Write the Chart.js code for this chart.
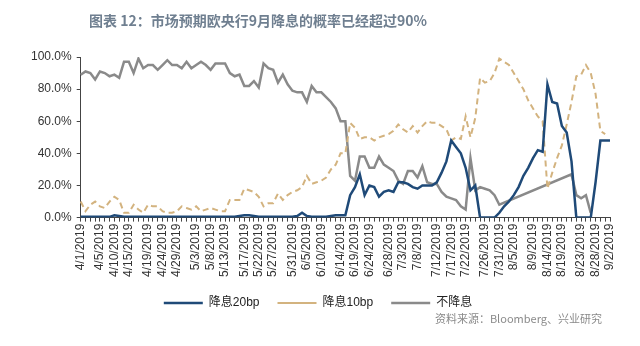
<!DOCTYPE html>
<html>
<head>
<meta charset="utf-8">
<script src="https://cdn.jsdelivr.net/npm/chart.js@4"></script>
<style>
  html, body { margin: 0; padding: 0; background: #fff; }
  #wrap { width: 640px; height: 346px; position: relative; }
</style>
</head>
<body>
<div id="wrap"><canvas id="rateChart"></canvas></div>
<script>
// trading days, 4/1/2019 - 9/2/2019
const dates = [
  '4/1/2019','4/2/2019','4/3/2019','4/4/2019','4/5/2019','4/8/2019','4/9/2019','4/10/2019','4/11/2019','4/12/2019',
  '4/15/2019','4/16/2019','4/17/2019','4/18/2019','4/19/2019','4/22/2019','4/23/2019','4/24/2019','4/25/2019','4/26/2019',
  '4/29/2019','4/30/2019','5/1/2019','5/2/2019','5/3/2019','5/6/2019','5/7/2019','5/8/2019','5/9/2019','5/10/2019',
  '5/13/2019','5/14/2019','5/15/2019','5/16/2019','5/17/2019','5/20/2019','5/21/2019','5/22/2019','5/23/2019','5/24/2019',
  '5/27/2019','5/28/2019','5/29/2019','5/30/2019','5/31/2019','6/3/2019','6/4/2019','6/5/2019','6/6/2019','6/7/2019',
  '6/10/2019','6/11/2019','6/12/2019','6/13/2019','6/14/2019','6/17/2019','6/18/2019','6/19/2019','6/20/2019','6/21/2019',
  '6/24/2019','6/25/2019','6/26/2019','6/27/2019','6/28/2019','7/1/2019','7/2/2019','7/3/2019','7/4/2019','7/5/2019',
  '7/8/2019','7/9/2019','7/10/2019','7/11/2019','7/12/2019','7/15/2019','7/16/2019','7/17/2019','7/18/2019','7/19/2019',
  '7/22/2019','7/23/2019','7/24/2019','7/25/2019','7/26/2019','7/29/2019','7/30/2019','7/31/2019','8/1/2019','8/2/2019',
  '8/5/2019','8/6/2019','8/7/2019','8/8/2019','8/9/2019','8/12/2019','8/13/2019','8/14/2019','8/15/2019','8/16/2019',
  '8/19/2019','8/20/2019','8/21/2019','8/22/2019','8/23/2019','8/26/2019','8/27/2019','8/28/2019','8/29/2019','8/30/2019',
  '9/2/2019'
];

// dates that get a label on the x axis
const tickLabels = [
  '4/1/2019','4/5/2019','4/10/2019','4/15/2019','4/19/2019','4/24/2019','4/29/2019','5/3/2019','5/8/2019',
  '5/13/2019','5/17/2019','5/22/2019','5/27/2019','5/31/2019','6/5/2019','6/10/2019','6/14/2019','6/19/2019',
  '6/24/2019','6/28/2019','7/3/2019','7/8/2019','7/12/2019','7/17/2019','7/22/2019','7/26/2019','7/31/2019',
  '8/5/2019','8/9/2019','8/14/2019','8/19/2019','8/23/2019','8/28/2019','9/2/2019'
];

// probability (%) - cut 20bp
const cut20 = [
  0.5,0.5,0.5,0.5,0.5,0.5,0.5,1.5,1,0.5,
  0.5,0.5,0.5,0.5,0.5,0.5,0.5,0.5,0.5,0.5,
  0.5,0.5,0.5,0.5,0.5,0.5,0.5,0.5,0.5,0.5,
  0.5,0.5,0.5,1,1.5,1.5,1,0.5,0.5,0.5,
  0.5,0.5,0.5,0.5,0.5,1,3,1,0.5,0.5,
  0.5,0.5,1,1.5,1.5,1.5,14,19,27,14,
  20,19,13,16,17,16,22,22,21,19,
  18,20,20,20,22,28,35,48,44,40,
  31,17,20,0,0,0,0,3,7,10,
  14,19,26,31,37,42,41,83,72,71,
  57,53,35,0,0,0,0,22,48,48,48
];

// probability (%) - cut 10bp
const cut10 = [
  10,4,8,10,7,6,10,13,11,3,
  3,8,5,3,8,7,7,4,3,3,
  4,7,6,5,7,4,5,6,5,4,
  4,11,11,11,18,17,16,13,7,9,
  9,15,11,14,16,17,19,26,21,22,
  23,25,30,33,40,40,59,56,49,50,
  50,48,50,51,52,54,58,55,53,57,
  53,57,60,59,59,57,55,48,50,49,
  63,50,62,87,84,85,90,99,97,95,
  90,85,80,73,68,63,60,18,28,37,
  45,58,72,88,89,95,90,77,54,52,null
];

// probability (%) - no cut
const noCut = [
  89,91,90,86,91,90,88,89,87,97,
  97,90,99,93,95,95,92,95,98,95,
  95,93,97,93,95,97,95,92,96,96,
  96,90,88,89,82,82,85,81,96,93,
  92,84,89,83,79,78,78,72,82,78,
  78,75,72,68,60,60,26,23,38,38,
  31,31,38,33,31,29,23,21,29,29,
  25,32,22,21,21,16,13,12,11,7,
  5,37,17,19,18,17,14,8,null,null,
  null,null,null,null,null,null,null,null,null,null,
  null,null,27,14,12,14,3,null,null,null,null
];

const yTicks = [0, 20, 40, 60, 80, 100];

const titleText = '图表 12：市场预期欧央行9月降息的概率已经超过90%';
const sourceText = '资料来源：Bloomberg、兴业研究';

// title and source note
const textPlugin = {
    id: 'texts',
    afterDraw(chart) {
        const ctx = chart.ctx;
        ctx.save();
        ctx.textBaseline = 'middle';
        ctx.fillStyle = '#6f7f90';
        ctx.textAlign = 'left';
        ctx.font = 'bold 14px "Noto Sans CJK SC"';
        ctx.fillText(titleText, 89, 21);
        ctx.fillStyle = '#8a8a8a';
        ctx.textAlign = 'right';
        ctx.font = '11px "Noto Sans CJK SC"';
        ctx.fillText(sourceText, 602, 319);
        ctx.restore();
    }
};

Chart.defaults.font.family = '"Liberation Sans", "Noto Sans CJK SC", sans-serif';
Chart.defaults.color = '#333';

var ctx = document.getElementById('rateChart').getContext('2d');
var rateChart = new Chart(ctx, {
    type: 'line',
    data: {
        labels: dates,
        datasets: [{
            label: '降息20bp',
            data: cut20,
            borderColor: '#1f4a78',
            backgroundColor: '#1f4a78',
            borderWidth: 2.5
        }, {
            label: '降息10bp',
            data: cut10,
            borderColor: '#d3b37f',
            backgroundColor: '#d3b37f',
            borderWidth: 2,
            borderDash: [6, 4]
        }, {
            label: '不降息',
            data: noCut,
            borderColor: '#8a8a8a',
            backgroundColor: '#8a8a8a',
            borderWidth: 2.5,
            spanGaps: true
        }]
    },
    options: {
        responsive: true,
        maintainAspectRatio: false,
        animation: false,
        elements: {
            point: { radius: 0 },
            line: { tension: 0 }
        },
        layout: {
            padding: { top: 57, left: 26, right: 30, bottom: 27 }
        },
        scales: {
            x: {
                grid: { drawOnChartArea: false, tickLength: 4, color: '#444' },
                border: { color: '#444' },
                ticks: {
                    autoSkip: false,
                    maxRotation: 90,
                    minRotation: 90,
                    padding: 2,
                    font: { size: 12 },
                    callback: function(val, idx) {
                        return tickLabels.includes(dates[idx]) ? dates[idx] : '';
                    }
                }
            },
            y: {
                min: 0,
                max: 100,
                grid: { drawOnChartArea: false, tickLength: 4, color: '#444' },
                border: { color: '#444' },
                afterBuildTicks: function(axis) {
                    axis.ticks = yTicks.map(v => ({ value: v }));
                },
                ticks: {
                    padding: 5,
                    font: { size: 12 },
                    callback: v => v.toFixed(1) + '%'
                }
            }
        },
        plugins: {
            legend: {
                position: 'bottom',
                labels: {
                    usePointStyle: true,
                    pointStyle: 'line',
                    pointStyleWidth: 39,
                    padding: 18,
                    color: '#222',
                    font: { size: 12 }
                }
            },
            tooltip: { enabled: false }
        }
    },
    plugins: [textPlugin]
});
</script>
</body>
</html>
